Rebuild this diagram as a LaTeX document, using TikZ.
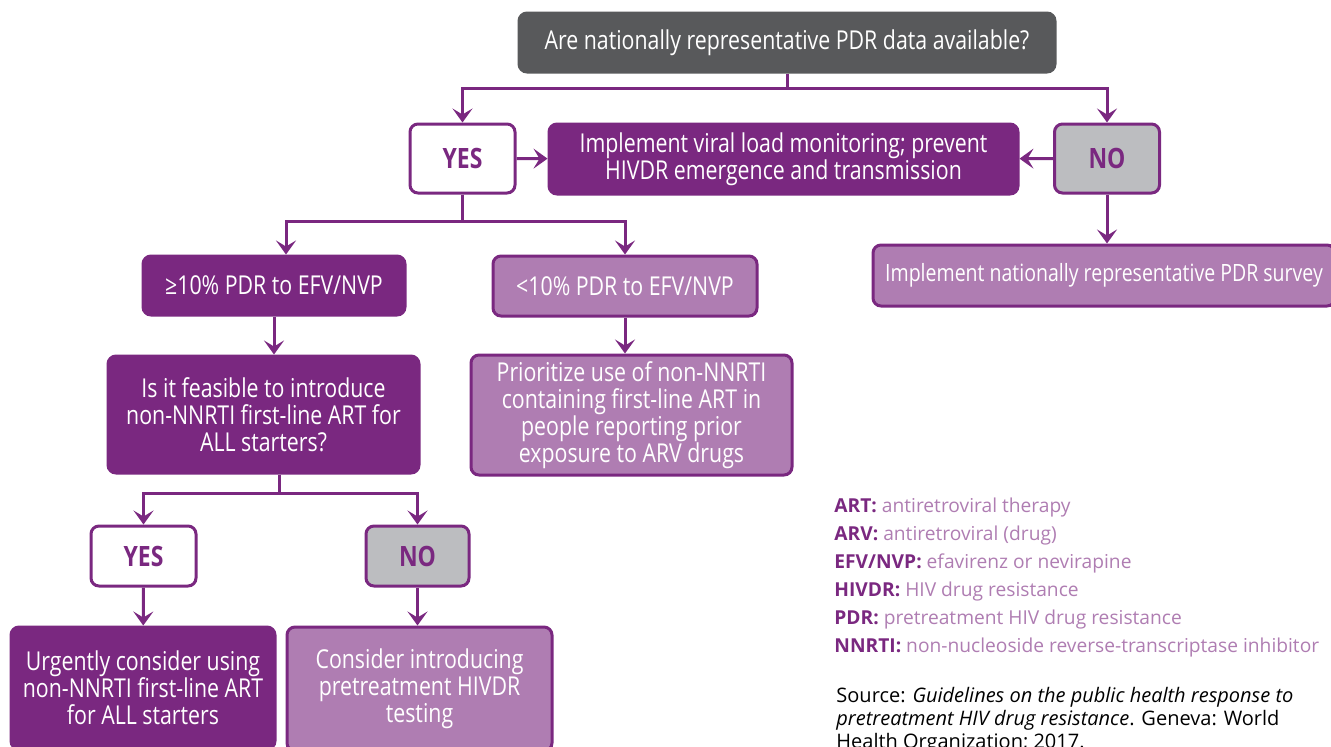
\documentclass[tikz,border=0pt]{standalone}
\usepackage{fontspec}
\setmainfont{Open Sans}
\newfontfamily\condfont[FakeStretch=0.82]{Open Sans}
\usetikzlibrary{arrows.meta}
\definecolor{whopurple}{HTML}{7A2880}
\definecolor{wholilac}{HTML}{AF7DB2}
\definecolor{whogrey}{HTML}{58595B}
\definecolor{whosilver}{HTML}{BCBDC0}
\begin{document}
\begin{tikzpicture}[x=0.5pt,y=-0.5pt,
  box/.style={rounded corners=4pt,line width=1.5pt,draw=whopurple,align=center,inner sep=0pt,
    text=white,font=\condfont\fontsize{13}{13.4}\selectfont},
  darkbox/.style={box,fill=whopurple},
  lightbox/.style={box,fill=wholilac},
  answer/.style={box,text=whopurple,font=\condfont\bfseries\fontsize{14}{15}\selectfont,
    minimum width=52.5pt},
  link/.style={draw=whopurple,line width=1.5pt,
    -{Stealth[length=7pt,width=10pt,inset=3pt]}},
  abbr/.style={anchor=west,inner sep=0pt,font=\fontsize{9.6}{11}\selectfont,text=wholilac}]
\useasboundingbox (0,0) rectangle (1331,746);
% question and first answers
\node[box,fill=whogrey,draw=whogrey,minimum width=268pt,minimum height=29.5pt] (q) at (787,42.5)
  {Are nationally representative PDR data available?};
\node[answer,fill=white,minimum height=34.5pt] (yes1) at (462.5,158.5) {YES};
\node[answer,fill=whosilver,minimum height=34.5pt] (no1) at (1107,158.5) {NO};
\node[darkbox,minimum width=234.5pt,minimum height=35pt] (vl) at (783.5,159)
  {Implement viral load monitoring; prevent\\HIVDR emergence and transmission};
\node[lightbox,minimum width=231pt,minimum height=30.5pt,font=\condfont\fontsize{11.9}{13}\selectfont]
  (survey) at (1104,275.5) {Implement nationally representative PDR survey};
% PDR level
\node[darkbox,minimum width=131pt,minimum height=29.5pt] (pdrhigh) at (274,285.5)
  {≥10\% PDR to EFV/NVP};
\node[lightbox,minimum width=132pt,minimum height=30pt] (pdrlow) at (625,286)
  {<10\% PDR to EFV/NVP};
\node[darkbox,minimum width=155.5pt,minimum height=58.5pt] (feasible) at (263.5,414.5)
  {Is it feasible to introduce\\non-NNRTI first-line ART for\\ALL starters?};
\node[lightbox,minimum width=160.5pt,minimum height=60pt] (prioritize) at (631.5,415)
  {Prioritize use of non-NNRTI\\containing first-line ART in\\people reporting prior\\exposure to ARV drugs};
% feasibility answers
\node[answer,fill=white,minimum height=30pt] (yes2) at (143.5,556) {YES};
\node[answer,fill=whosilver,minimum width=51.5pt,minimum height=30pt] (no2) at (417.5,556) {NO};
\node[darkbox,minimum width=132pt,minimum height=61pt] (urgent) at (143,688)
  {Urgently consider using\\non-NNRTI first-line ART\\for ALL starters};
\node[lightbox,minimum width=132.5pt,minimum height=62pt] (consider) at (419.5,689)
  {Consider introducing\\pretreatment HIVDR\\testing};
% connectors
\draw[link] (q.south) -- ++(0,15) -| (yes1.north);
\draw[link] (q.south) -- ++(0,15) -| (no1.north);
\draw[link] (yes1) -- (vl);
\draw[link] (no1) -- (vl);
\draw[link] (no1.south) -- (no1.south |- survey.north);
\draw[link] (yes1.south) -- ++(0,27) -| ([xshift=6pt]pdrhigh.north);
\draw[link] (yes1.south) -- ++(0,27) -| (pdrlow.north);
\draw[link] (pdrhigh.south) -- (pdrhigh.south |- feasible.north);
\draw[link] (pdrlow.south) -- (pdrlow.south |- prioritize.north);
\draw[link] ([xshift=7.75pt]feasible.south) -- ++(0,19) -| (yes2.north);
\draw[link] ([xshift=7.75pt]feasible.south) -- ++(0,19) -| (no2.north);
\draw[link] (yes2) -- (urgent);
\draw[link] (no2.south) -- (no2.south |- consider.north);
% abbreviations
\node[abbr] (art) at (834,507) {\textcolor{whopurple}{\bfseries ART:} antiretroviral therapy};
\node[abbr] (arv) at (834,535) {\textcolor{whopurple}{\bfseries ARV:} antiretroviral (drug)};
\node[abbr] (efv) at (834,563) {\textcolor{whopurple}{\bfseries EFV/NVP:} efavirenz or nevirapine};
\node[abbr] (hivdr) at (834,591) {\textcolor{whopurple}{\bfseries HIVDR:} HIV drug resistance};
\node[abbr] (pdr) at (834,619) {\textcolor{whopurple}{\bfseries PDR:} pretreatment HIV drug resistance};
\node[abbr] (nnrti) at (834,647) {\textcolor{whopurple}{\bfseries NNRTI:} non-nucleoside reverse-transcriptase inhibitor};
% source
\node[anchor=north west,inner sep=0pt,align=left,font=\fontsize{10}{11.5}\selectfont] (source) at (836,687)
  {Source: \textit{Guidelines on the public health response to}\\
   \textit{pretreatment HIV drug resistance}. Geneva: World\\
   Health Organization; 2017.};
\end{tikzpicture}
\end{document}
